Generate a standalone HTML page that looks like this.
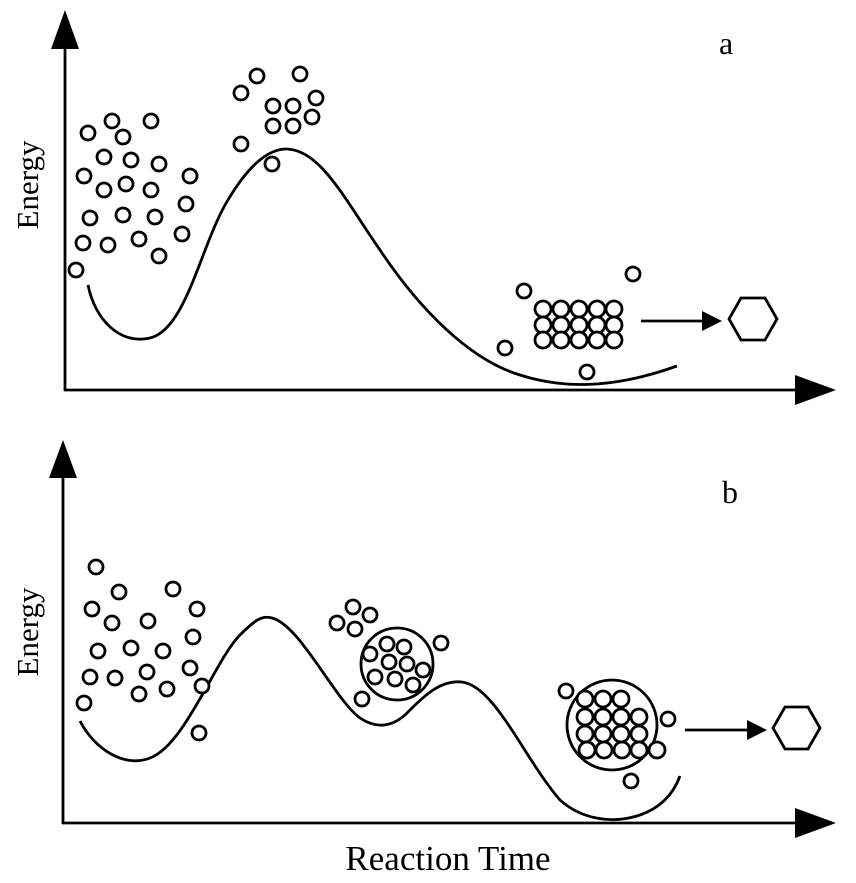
<!DOCTYPE html>
<html><head><style>body{margin:0;background:#fff}svg{display:block}</style></head><body>
<svg width="856" height="883" viewBox="0 0 856 883" xmlns="http://www.w3.org/2000/svg" font-family="Liberation Serif, serif">
<g stroke="#000" stroke-width="2.8" fill="none">
<line x1="65" y1="45" x2="65" y2="391"/>
<line x1="64" y1="390" x2="800" y2="390"/>
<line x1="63" y1="475" x2="63" y2="824"/>
<line x1="62" y1="823" x2="800" y2="823"/>
<path d="M88,285 C95,320 120,345 150,338 C185,330 200,250 225,205 C245,170 265,150 285,149 C320,148 345,200 380,250 C420,310 470,360 520,375 C560,388 610,390 677,366"/>
<path d="M80,721 C95,750 125,768 150,758 C185,745 215,660 240,635 C255,620 262,615 272,618 C300,625 335,700 360,718 C375,728 390,728 405,715 C425,695 440,680 462,682 C495,686 525,760 560,800 C580,818 610,825 640,815 C660,808 673,795 680,776"/>
<line x1="641" y1="321" x2="705" y2="321"/>
<line x1="685" y1="730" x2="750" y2="730"/>
<polygon points="729,319 741,298 765,298 777,319 765,340 741,340"/>
<polygon points="773,728 785,707 808,707 820,728 808,749 785,749"/>
<circle cx="397" cy="664" r="36"/>
<circle cx="612" cy="725" r="45"/>
</g>
<g fill="#000">
<polygon points="65,10 51,49 79,49"/>
<polygon points="836,390 795,375 795,405"/>
<polygon points="63,440 49,478 77,478"/>
<polygon points="836,823 795,808 795,838"/>
<polygon points="722,321 702,311 702,331"/>
<polygon points="767,730 747,720 747,740"/>
</g>
<g stroke="#000" stroke-width="2.8" fill="#fff">
<circle cx="88" cy="133" r="7"/><circle cx="112" cy="121" r="7"/><circle cx="123" cy="137" r="7"/><circle cx="151" cy="121" r="7"/>
<circle cx="104" cy="157" r="7"/><circle cx="131" cy="160" r="7"/><circle cx="159" cy="164" r="7"/><circle cx="84" cy="176" r="7"/>
<circle cx="104" cy="190" r="7"/><circle cx="126" cy="184" r="7"/><circle cx="151" cy="190" r="7"/><circle cx="190" cy="176" r="7"/>
<circle cx="186" cy="204" r="7"/><circle cx="90" cy="218" r="7"/><circle cx="123" cy="215" r="7"/><circle cx="155" cy="217" r="7"/>
<circle cx="182" cy="234" r="7"/><circle cx="83" cy="243" r="7"/><circle cx="108" cy="245" r="7"/><circle cx="139" cy="239" r="7"/>
<circle cx="159" cy="256" r="7"/><circle cx="76" cy="270" r="7"/>
<circle cx="241" cy="93" r="7"/><circle cx="257" cy="76" r="7"/><circle cx="300" cy="74" r="7"/><circle cx="316" cy="98" r="7"/>
<circle cx="273" cy="106" r="7"/><circle cx="293" cy="106" r="7"/><circle cx="312" cy="117" r="7"/><circle cx="273" cy="126" r="7"/>
<circle cx="293" cy="126" r="7"/><circle cx="241" cy="144" r="7"/><circle cx="272" cy="164" r="7"/>
<circle cx="633" cy="274" r="7"/><circle cx="524" cy="291" r="7"/><circle cx="505" cy="348" r="7"/><circle cx="587" cy="372" r="7"/>
<circle cx="543" cy="309" r="8"/><circle cx="561" cy="309" r="8"/><circle cx="579" cy="309" r="8"/><circle cx="597" cy="309" r="8"/><circle cx="614" cy="309" r="8"/>
<circle cx="543" cy="325" r="8"/><circle cx="561" cy="325" r="8"/><circle cx="579" cy="325" r="8"/><circle cx="597" cy="325" r="8"/><circle cx="614" cy="325" r="8"/>
<circle cx="543" cy="340" r="8"/><circle cx="561" cy="340" r="8"/><circle cx="579" cy="340" r="8"/><circle cx="597" cy="340" r="8"/><circle cx="614" cy="340" r="8"/>
<circle cx="96" cy="567" r="7"/><circle cx="119" cy="592" r="7"/><circle cx="173" cy="589" r="7"/><circle cx="92" cy="609" r="7"/>
<circle cx="112" cy="623" r="7"/><circle cx="148" cy="621" r="7"/><circle cx="197" cy="609" r="7"/><circle cx="98" cy="651" r="7"/>
<circle cx="131" cy="648" r="7"/><circle cx="163" cy="651" r="7"/><circle cx="193" cy="637" r="7"/><circle cx="90" cy="677" r="7"/>
<circle cx="115" cy="678" r="7"/><circle cx="147" cy="672" r="7"/><circle cx="190" cy="668" r="7"/><circle cx="139" cy="694" r="7"/>
<circle cx="167" cy="689" r="7"/><circle cx="202" cy="686" r="7"/><circle cx="84" cy="703" r="7"/><circle cx="199" cy="733" r="7"/>
<circle cx="353" cy="607" r="7"/><circle cx="370" cy="615" r="7"/><circle cx="337" cy="623" r="7"/><circle cx="355" cy="629" r="7"/>
<circle cx="387" cy="644" r="7"/><circle cx="404" cy="647" r="7"/><circle cx="370" cy="654" r="7"/><circle cx="389" cy="662" r="7"/>
<circle cx="407" cy="664" r="7"/><circle cx="423" cy="670" r="7"/><circle cx="375" cy="677" r="7"/><circle cx="395" cy="679" r="7"/>
<circle cx="413" cy="685" r="7"/><circle cx="362" cy="699" r="7"/><circle cx="441" cy="643" r="7"/>
<circle cx="566" cy="691" r="7"/><circle cx="668" cy="719" r="7"/><circle cx="631" cy="781" r="7"/>
<circle cx="585" cy="699" r="8"/><circle cx="603" cy="699" r="8"/><circle cx="621" cy="699" r="8"/>
<circle cx="585" cy="717" r="8"/><circle cx="603" cy="717" r="8"/><circle cx="621" cy="717" r="8"/><circle cx="639" cy="717" r="8"/>
<circle cx="585" cy="734" r="8"/><circle cx="603" cy="734" r="8"/><circle cx="621" cy="734" r="8"/><circle cx="639" cy="734" r="8"/>
<circle cx="587" cy="750" r="8"/><circle cx="604" cy="750" r="8"/><circle cx="622" cy="750" r="8"/><circle cx="639" cy="750" r="8"/><circle cx="657" cy="750" r="8"/>
</g>
<g fill="#000">
<text x="719" y="54" font-size="32">a</text>
<text x="722" y="503" font-size="32">b</text>
<text transform="translate(38,185) rotate(-90)" font-size="31" text-anchor="middle">Energy</text>
<text transform="translate(38,632) rotate(-90)" font-size="31" text-anchor="middle">Energy</text>
<text x="448" y="870" font-size="35" text-anchor="middle">Reaction Time</text>
</g>
</svg>
</body></html>
